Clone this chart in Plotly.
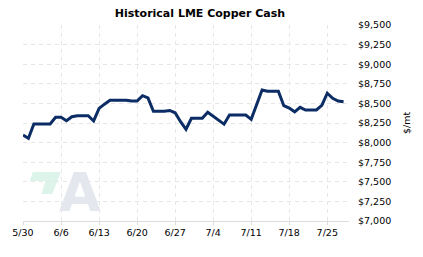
import pandas as pd
import plotly.graph_objects as go

start_date = "2023-05-30"
end_date = "2023-07-28"
dates = pd.date_range(start_date, end_date, freq="D")

prices = [
    8097, 8055, 8237, 8237, 8237, 8237, 8323, 8323, 8279, 8330,
    8343, 8343, 8343, 8276, 8437, 8490, 8540, 8540, 8540, 8540,
    8530, 8530, 8598, 8570, 8400, 8400, 8400, 8410, 8380, 8267,
    8170, 8310, 8310, 8310, 8386, 8335, 8287, 8235, 8352, 8352,
    8352, 8352, 8297, 8485, 8671, 8654, 8654, 8654, 8470, 8440,
    8393, 8450, 8416, 8416, 8416, 8475, 8630, 8565, 8530, 8520,
]

title_text = "Historical LME Copper Cash"
y_title = "$/mt"
y_ticks = [7000, 7250, 7500, 7750, 8000, 8250, 8500, 8750, 9000, 9250, 9500]
y_labels = ["$7,000", "$7,250", "$7,500", "$7,750", "$8,000", "$8,250",
            "$8,500", "$8,750", "$9,000", "$9,250", "$9,500"]

FONT = "DejaVu Sans"
GRID = "#e6e6e6"

fig = go.Figure()
fig.add_trace(go.Scatter(
    x=dates, y=prices, mode="lines",
    line=dict(color="#0b2c64", width=3),
    hoverinfo="skip",
))

L, R, T, B = 20, 68, 25, 36
W, H = 423, 257
pw, ph = W - L - R, H - T - B

def px(x):
    return (x - L) / pw

def py(y):
    return (H - B - y) / ph

# watermark logo (decoration)
fig.add_shape(
    type="path", xref="paper", yref="paper",
    path=(f"M {px(30)},{py(172)} L {px(59)},{py(172)} L {px(50)},{py(194)} "
          f"L {px(39)},{py(194)} L {px(43)},{py(181)} L {px(27)},{py(181)} Z"),
    fillcolor="#dcf4ea", line=dict(width=0), layer="below",
)
fig.add_annotation(
    x=px(78.5), y=py(192), xref="paper", yref="paper",
    text="<b>A</b>", showarrow=False,
    font=dict(family=FONT, size=54, color="#e4e7ed"),
    xanchor="center", yanchor="middle",
)

fig.update_layout(
    width=W, height=H,
    margin=dict(l=L, r=R, t=T, b=B),
    paper_bgcolor="white", plot_bgcolor="white",
    showlegend=False,
    font=dict(family=FONT, size=9.5, color="#000000"),
    title=dict(
        text=f"<b>{title_text}</b>",
        x=200 / W, xanchor="center", xref="container",
        y=1 - 13 / H, yanchor="middle", yref="container",
        font=dict(family=FONT, size=11, color="#000000"),
    ),
    xaxis=dict(
        range=["2023-05-30", "2023-07-29"],
        tick0="2023-05-30", dtick=7 * 24 * 3600 * 1000,
        tickformat="%-m/%-d",
        showgrid=True, gridcolor=GRID, griddash="4px,4px", gridwidth=1,
        showline=True, linecolor="#dcdcdc", linewidth=1,
        ticks="outside", ticklen=3, tickcolor="#dcdcdc",
        zeroline=False, fixedrange=True,
        tickfont=dict(family=FONT, size=9.5, color="#000000"),
    ),
    yaxis=dict(
        side="right",
        range=[7000, 9500],
        tickvals=y_ticks, ticktext=y_labels,
        showgrid=True, gridcolor=GRID, griddash="4px,4px", gridwidth=1,
        showline=False, zeroline=False, ticks="",
        ticklabelstandoff=8,
        tickfont=dict(family=FONT, size=9.5, color="#000000"),
        title=dict(text=y_title, standoff=13,
                   font=dict(family=FONT, size=9.5, color="#000000")),
        fixedrange=True,
    ),
)

fig.write_html("out.html")
